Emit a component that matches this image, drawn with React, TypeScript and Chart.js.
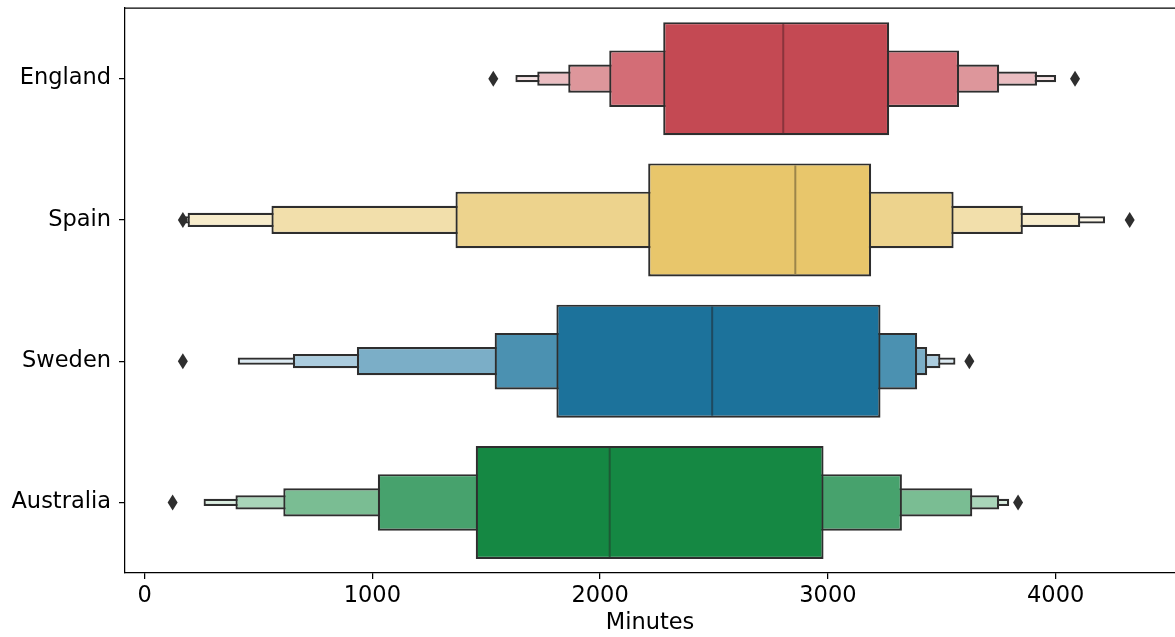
import { useEffect, useRef } from 'react';
import { Chart, registerables } from 'chart.js';

Chart.register(...registerables);

const categories = ['England', 'Spain', 'Sweden', 'Australia'];

// letter values (Minutes)
const q1 = [2277, 2211, 1808, 1454];
const q3 = [3269, 3190, 3231, 2981];
const medians = [2804, 2857, 2492, 2042];
const k1Low = [2040, 1365, 1537, 1024];
const k1High = [3576, 3552, 3392, 3325];
const k2Low = [1860, 557, 932, 609];
const k2High = [3752, 3856, 3436, 3634];
const k3Low = [1724, 189, 651, 399];
const k3High = [3918, 4108, 3494, 3752];
const k4Low = [1628, 178, 409, 259];
const k4High = [4002, 4217, 3560, 3796];
const outlierLow = [1531, 168, 168, 123];
const outlierHigh = [4085, 4325, 3621, 3835];

const xTicks = [0, 1000, 2000, 3000, 4000];

// colours per level (IQR, k1..k4) per category
const iqrColors = ['#C44953', '#E8C66B', '#1C729B', '#158843'];
const k1Colors = ['#D36D76', '#EDD38D', '#4B91B1', '#47A26D'];
const k2Colors = ['#DD969B', '#F2DFAB', '#7BAEC7', '#7ABD93'];
const k3Colors = ['#EABDC1', '#F7ECCB', '#ABCCDE', '#A9D5B9'];
const k4Colors = ['#F6E3E5', '#FBF6E8', '#DCEAF2', '#DAEDE0'];
const medianColors = ['#8A343C', '#9C854A', '#1E4A60', '#1E5A35'];

const EDGE = '#2e2e2e';
const FONT = 'DejaVu Sans';
const FS = 22.5;

function App() {
  const ref = useRef<HTMLCanvasElement | null>(null);

  useEffect(() => {
    document.body.style.margin = '0';
    const canvas = ref.current;
    if (!canvas) return;

    const levels = [
      { low: k4Low, high: k4High, colors: k4Colors, frac: 0.05, order: 4 },
      { low: k3Low, high: k3High, colors: k3Colors, frac: 0.1, order: 3 },
      { low: k2Low, high: k2High, colors: k2Colors, frac: 0.2, order: 2 },
      { low: k1Low, high: k1High, colors: k1Colors, frac: 0.4, order: 1 },
      { low: q1, high: q3, colors: iqrColors, frac: 0.8, order: 0 },
    ];

    const datasets = levels.map((lv) => ({
      type: 'bar' as const,
      data: categories.map((_, i) => [lv.low[i], lv.high[i]]),
      backgroundColor: lv.colors,
      borderColor: EDGE,
      borderWidth: 2.2,
      borderSkipped: false,
      grouped: false,
      categoryPercentage: 1,
      barPercentage: lv.frac,
      order: lv.order,
    }));

    const overlay = {
      id: 'boxenOverlay',
      afterDatasetsDraw(chart: any) {
        const ctx = chart.ctx;
        const xs = chart.scales.x;
        const ys = chart.scales.y;
        const step = ys.getPixelForValue(1) - ys.getPixelForValue(0);
        ctx.save();
        for (let i = 0; i < categories.length; i++) {
          const yc = ys.getPixelForValue(i);
          const half = step * 0.4;
          const mx = xs.getPixelForValue(medians[i]);
          ctx.strokeStyle = medianColors[i];
          ctx.lineWidth = 2;
          ctx.beginPath();
          ctx.moveTo(mx, yc - half + 2);
          ctx.lineTo(mx, yc + half - 2);
          ctx.stroke();
          ctx.fillStyle = EDGE;
          for (const v of [outlierLow[i], outlierHigh[i]]) {
            const px = xs.getPixelForValue(v);
            ctx.beginPath();
            ctx.moveTo(px, yc - 8);
            ctx.lineTo(px + 5, yc);
            ctx.lineTo(px, yc + 8);
            ctx.lineTo(px - 5, yc);
            ctx.closePath();
            ctx.fill();
          }
        }
        // top spine
        const a = chart.chartArea;
        ctx.strokeStyle = '#000';
        ctx.lineWidth = 1.25;
        ctx.beginPath();
        ctx.moveTo(a.left, a.top);
        ctx.lineTo(a.right, a.top);
        ctx.stroke();
        ctx.restore();
      },
    };

    const chart = new Chart(canvas, {
      type: 'bar',
      data: { labels: categories, datasets: datasets as any },
      options: {
        indexAxis: 'y',
        animation: false,
        responsive: false,
        layout: { padding: { top: 8, right: 0, left: 0, bottom: 0 } },
        plugins: { legend: { display: false }, tooltip: { enabled: false } },
        scales: {
          y: {
            type: 'category',
            labels: categories,
            offset: true,
            grid: {
              display: true,
              drawOnChartArea: false,
              drawTicks: true,
              tickLength: 6,
              color: '#000',
              lineWidth: 1.25,
              offset: false,
            },
            border: { display: true, color: '#000', width: 1.25 },
            ticks: { color: '#000', font: { family: FONT, size: FS }, padding: 8 },
            afterFit: (s: any) => {
              s.width = 125;
              s.paddingTop = 0;
              s.paddingBottom = 0;
            },
          },
          x: {
            type: 'linear',
            min: -86,
            max: 4524,
            afterBuildTicks: (s: any) => {
              s.ticks = xTicks.map((v) => ({ value: v }));
            },
            grid: {
              display: true,
              drawOnChartArea: false,
              drawTicks: true,
              tickLength: 6,
              color: '#000',
              lineWidth: 1.25,
            },
            border: { display: true, color: '#000', width: 1.25 },
            ticks: {
              color: '#000',
              font: { family: FONT, size: FS },
              padding: 4,
              maxRotation: 0,
              callback: (v: any) => String(v),
            },
            title: {
              display: true,
              text: 'Minutes',
              color: '#000',
              font: { family: FONT, size: FS },
              padding: { top: 0, bottom: 0 },
            },
            afterFit: (s: any) => {
              s.height = 64;
              s.paddingLeft = 0;
              s.paddingRight = 0;
            },
          },
        },
      },
      plugins: [overlay],
    });

    return () => chart.destroy();
  }, []);

  return (
    <div style={{ width: 1175, height: 637 }}>
      <canvas ref={ref} width={1175} height={637} style={{ display: 'block' }} />
    </div>
  );
}

export default App;
